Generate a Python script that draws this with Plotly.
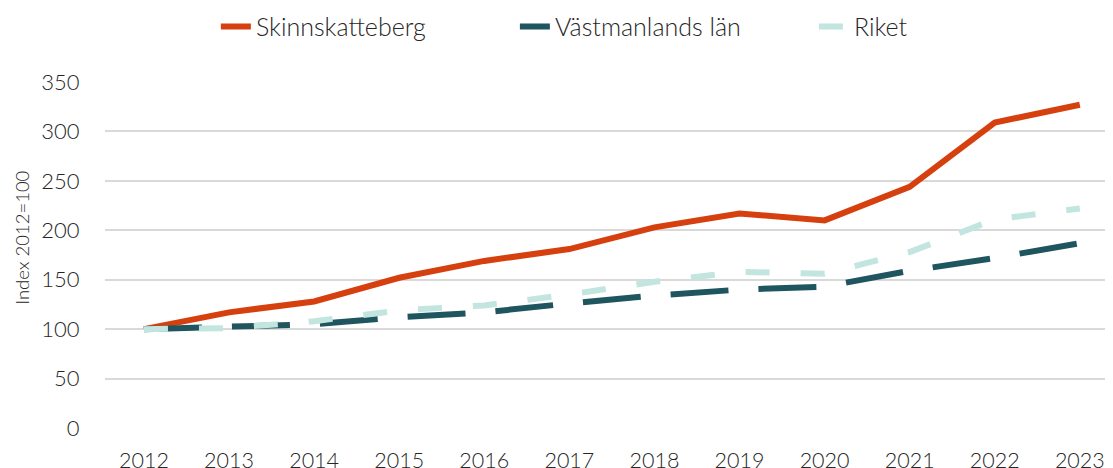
import plotly.graph_objects as go

years = [2012, 2013, 2014, 2015, 2016, 2017, 2018, 2019, 2020, 2021, 2022, 2023]
skinnskatteberg = [100, 117, 128, 152, 169, 181, 203, 217, 210, 244, 309, 327]
vastmanland = [100, 102, 105, 112, 117, 126, 134, 140, 143, 159, 172, 187]
riket = [100, 101, 108, 119, 124, 135, 148, 158, 156, 178, 211, 222]
y_ticks = [0, 50, 100, 150, 200, 250, 300, 350]
y_title = "Index 2012=100"

FONT = "Lato"
TXT = "#262626"

fig = go.Figure()
fig.add_trace(go.Scatter(x=years, y=skinnskatteberg, name="Skinnskatteberg", mode="lines",
                         line=dict(color="#D6400F", width=6)))
fig.add_trace(go.Scatter(x=years, y=vastmanland, name="Västmanlands län", mode="lines",
                         line=dict(color="#1F555E", width=6, dash="58px,30px")))
fig.add_trace(go.Scatter(x=years, y=riket, name="Riket", mode="lines",
                         line=dict(color="#C2E5E0", width=6, dash="24px,31px")))

# page body has an 8px margin, so the figure is 8px smaller and shifted
W, H = 1105, 460
ML, MT, MB = 97, 74, 39.5
plot_h = H - MT - MB

fig.update_layout(
    width=W, height=H,
    margin=dict(l=ML, r=0, t=MT, b=MB, autoexpand=False),
    plot_bgcolor="white", paper_bgcolor="white",
    font=dict(family=FONT, color=TXT, size=21, weight=300),
    showlegend=True,
    legend=dict(orientation="h", x=0.110, xanchor="left", y=1.16, yanchor="middle",
                font=dict(size=25, color=TXT, weight=300), entrywidth=254,
                entrywidthmode="pixels", traceorder="normal",
                bgcolor="rgba(0,0,0,0)"),
    xaxis=dict(range=[2011.542, 2023.39], tickvals=years, ticktext=[str(y) for y in years],
               showgrid=False, zeroline=False, showline=False, ticks="outside",
               ticklen=13, tickcolor="rgba(0,0,0,0)", automargin=False,
               tickfont=dict(size=21.5, color=TXT, weight=300), fixedrange=True),
    yaxis=dict(range=[0, 350], tickvals=y_ticks, showgrid=True, gridcolor="#D9D9D9",
               gridwidth=1.5, zeroline=False, showline=False, ticks="outside",
               ticklen=20, tickcolor="rgba(0,0,0,0)", automargin=False,
               tickfont=dict(size=22, color=TXT, weight=300)),
    annotations=[dict(text=y_title, textangle=-90, showarrow=False,
                      xref="paper", yref="paper",
                      x=(14 - ML) / (W - ML), xanchor="center",
                      y=(H - MB - 230) / plot_h, yanchor="middle",
                      font=dict(size=18.5, color=TXT, weight=300))],
)

fig.write_html("out.html")
